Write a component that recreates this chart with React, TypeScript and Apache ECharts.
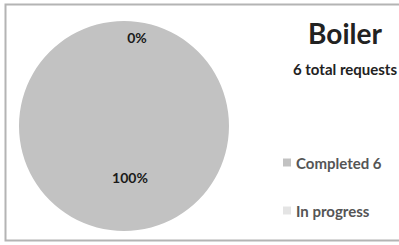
import React, { useEffect, useRef } from "react";
import * as echarts from "echarts";

const chartTitle = "Boiler";
const chartSubtitle = "6 total requests";
const categories = ["Completed", "In progress"];
const values = [6, 0];
const sliceColors = ["#c2c2c2", "#e4e4e4"];

export default function App() {
  const ref = useRef<HTMLDivElement>(null);
  useEffect(() => {
    document.body.style.margin = "0";
    const chart = echarts.init(ref.current!, null, { renderer: "svg" });
    const total = values.reduce((a, b) => a + b, 0);
    const data = categories.map((name, i) => ({
      name,
      value: values[i],
      itemStyle: {
        color: sliceColors[i],
        borderWidth: 0,
      },
      label:
        values[i] === 0
          ? { offset: [13, -33] }
          : { offset: [6, -4] },
    }));
    chart.setOption({
      animation: false,
      backgroundColor: "#ffffff",
      title: {
        text: chartTitle,
        subtext: chartSubtitle,
        left: 340,
        top: 14,
        textAlign: "center",
        itemGap: 14,
        textStyle: {
          fontFamily: "Lato",
          fontWeight: "bold",
          fontSize: 28,
          color: "#222222",
        },
        subtextStyle: {
          fontFamily: "Lato",
          fontWeight: "bold",
          fontSize: 15,
          color: "#222222",
        },
      },
      legend: {
        orient: "vertical",
        left: 278,
        top: 150,
        itemWidth: 8,
        itemHeight: 8,
        itemGap: 33,
        icon: "rect",
        data: categories,
        itemStyle: { borderWidth: 0 },
        formatter: (name: string) => {
          const i = categories.indexOf(name);
          return values[i] > 0 ? `${name} ${values[i]}` : name;
        },
        textStyle: {
          fontFamily: "Lato",
          fontWeight: "bold",
          fontSize: 15,
          color: "#555555",
        },
      },
      graphic: [
        {
          type: "rect",
          shape: { x: 5.5, y: 4.5, width: 420, height: 236 },
          style: { fill: "none", stroke: "#b4b4b4", lineWidth: 2 },
          silent: true,
          z: -1,
        },
      ],
      series: [
        {
          type: "pie",
          center: [124, 126],
          radius: [0, 105],
          startAngle: 90,
          clockwise: true,
          avoidLabelOverlap: false,
          itemStyle: { borderWidth: 0 },
          label: {
            show: true,
            position: "inside",
            formatter: (p: any) =>
              `${Math.round((p.value / total) * 100)}%`,
            fontFamily: "Lato",
            fontWeight: "bold",
            fontSize: 14,
            color: "#1a1a1a",
          },
          labelLine: { show: false },
          emphasis: { disabled: true },
          data,
        },
      ],
    });
    return () => chart.dispose();
  }, []);
  return <div ref={ref} style={{ width: 399, height: 245 }} />;
}
